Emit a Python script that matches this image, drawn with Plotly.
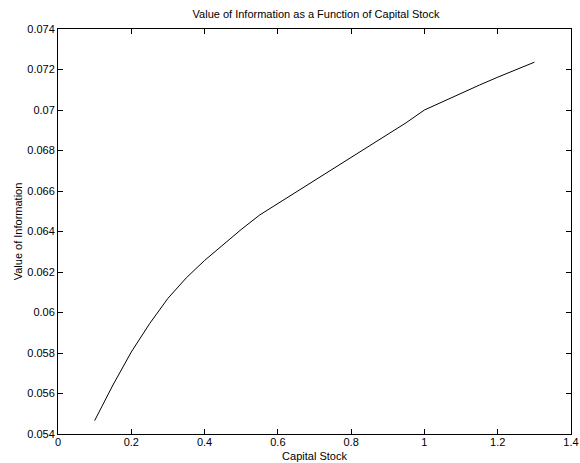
import plotly.graph_objects as go

capital_stock = [0.10, 0.15, 0.20, 0.25, 0.30, 0.35, 0.40, 0.45, 0.50, 0.55,
                 0.60, 0.65, 0.70, 0.75, 0.80, 0.85, 0.90, 0.95, 1.00,
                 1.05, 1.10, 1.15, 1.20, 1.25, 1.30]
value_of_info = [0.05466, 0.05642, 0.05805, 0.05945, 0.06070, 0.06171, 0.06257,
                 0.06335, 0.06410, 0.06481, 0.06538, 0.06594, 0.06650, 0.06706,
                 0.06762, 0.06819, 0.06876, 0.06937, 0.07000, 0.07042, 0.07083,
                 0.07123, 0.07162, 0.07200, 0.07236]

x_ticks = [0, 0.2, 0.4, 0.6, 0.8, 1, 1.2, 1.4]
x_tick_labels = ["0", "0.2", "0.4", "0.6", "0.8", "1", "1.2", "1.4"]
y_ticks = [0.054, 0.056, 0.058, 0.06, 0.062, 0.064, 0.066, 0.068, 0.07, 0.072, 0.074]
y_tick_labels = ["0.054", "0.056", "0.058", "0.06", "0.062", "0.064", "0.066",
                 "0.068", "0.07", "0.072", "0.074"]

fig = go.Figure()
fig.add_trace(go.Scatter(x=capital_stock, y=value_of_info, mode="lines",
                         line=dict(color="black", width=1), showlegend=False,
                         hoverinfo="skip"))

font = dict(family="Liberation Sans, Arial, Helvetica, sans-serif", size=11, color="black")
axis_common = dict(showline=True, linecolor="black", linewidth=1, mirror="ticks",
                   ticks="inside", ticklen=5, tickwidth=1, tickcolor="black",
                   showgrid=False, zeroline=False, tickfont=font, automargin=False,
                   ticklabeloverflow="allow")

W, H = 580, 463
fig.update_layout(
    width=W, height=H,
    margin=dict(l=58, r=9, t=29, b=29, autoexpand=False),
    paper_bgcolor="white", plot_bgcolor="white",
    font=font,
    title=dict(text="Value of Information as a Function of Capital Stock",
               x=316 / W, xanchor="center", xref="container",
               y=1 - 14.5 / H, yanchor="middle", yref="container",
               font=dict(family=font["family"], size=11, color="black")),
    xaxis=dict(range=[0, 1.4], tickvals=x_ticks, ticktext=x_tick_labels,
               ticklabelstandoff=-2,
               title=dict(text="Capital Stock", standoff=5,
                          font=dict(family=font["family"], size=11, color="black")),
               **axis_common),
    yaxis=dict(range=[0.054, 0.074], tickvals=y_ticks, ticktext=y_tick_labels,
               ticklabelstandoff=0,
               title=dict(text="Value of Information", standoff=2,
                          font=dict(family=font["family"], size=11, color="black")),
               **axis_common),
)

fig.write_html("out.html",
               config={"displayModeBar": False, "staticPlot": True},
               post_script="document.body.style.margin='0';"
                           "document.body.style.overflow='hidden';")
